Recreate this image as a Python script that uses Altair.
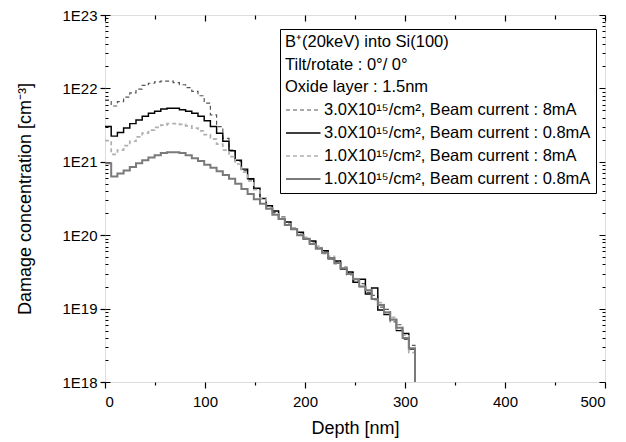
import altair as alt
import pandas as pd

# depth bin starts [nm] (last entry = end of profile)
depth = [0.0, 6.2, 12.4, 18.6, 24.8, 31.0, 37.2, 43.4, 49.6, 55.8,
         62.0, 68.2, 74.4, 80.6, 86.8, 93.0, 99.2, 105.4, 111.6, 117.8,
         124.0, 130.2, 136.4, 142.6, 148.8, 155.0, 161.2, 167.4, 173.6, 179.8,
         186.0, 192.2, 198.4, 204.6, 210.8, 217.0, 223.2, 229.4, 235.6, 241.8,
         248.0, 254.2, 260.4, 266.6, 272.8, 279.0, 285.2, 291.4, 297.6, 303.8,
         310.0]

# log10 of damage concentration [cm^-3]
s_a = [21.84, 21.76, 21.82, 21.88, 21.94, 21.99, 22.04, 22.07, 22.09, 22.10,
       22.10, 22.08, 22.05, 22.01, 21.96, 21.90, 21.80, 21.64, 21.48, 21.32,
       21.16, 21.01, 20.88, 20.76, 20.63, 20.50, 20.40, 20.31, 20.25, 20.15,
       20.10, 20.03, 19.95, 19.91, 19.83, 19.78, 19.69, 19.64, 19.55, 19.49,
       19.38, 19.34, 19.22, 19.18, 19.02, 18.99, 18.82, 18.78, 18.58, 18.50, 18.0]
s_b = [21.48, 21.35, 21.40, 21.46, 21.52, 21.57, 21.62, 21.66, 21.69, 21.72,
       21.73, 21.73, 21.71, 21.69, 21.66, 21.62, 21.56, 21.48, 21.39, 21.28,
       21.15, 21.02, 20.90, 20.77, 20.64, 20.50, 20.40, 20.33, 20.22, 20.18,
       20.08, 20.04, 19.95, 19.92, 19.82, 19.79, 19.68, 19.65, 19.54, 19.50,
       19.36, 19.40, 19.20, 19.28, 18.98, 18.92, 18.85, 18.70, 18.66, 18.45, 18.0]
s_c = [21.29, 21.10, 21.16, 21.22, 21.28, 21.34, 21.39, 21.43, 21.47, 21.50,
       21.52, 21.52, 21.51, 21.49, 21.46, 21.42, 21.37, 21.31, 21.24, 21.16,
       21.07, 20.97, 20.86, 20.74, 20.62, 20.50, 20.37, 20.29, 20.24, 20.15,
       20.10, 20.01, 19.97, 19.88, 19.85, 19.75, 19.71, 19.61, 19.57, 19.46,
       19.41, 19.30, 19.26, 19.12, 19.08, 18.94, 18.88, 18.72, 18.64, 18.40, 18.0]
s_d = [20.98, 20.80, 20.84, 20.88, 20.93, 20.98, 21.02, 21.06, 21.09, 21.12,
       21.13, 21.13, 21.12, 21.09, 21.05, 21.01, 20.96, 20.92, 20.87, 20.82,
       20.77, 20.70, 20.63, 20.56, 20.49, 20.43, 20.36, 20.28, 20.22, 20.14,
       20.08, 20.00, 19.95, 19.88, 19.82, 19.76, 19.69, 19.62, 19.55, 19.47,
       19.40, 19.30, 19.25, 19.13, 19.05, 18.95, 18.85, 18.74, 18.60, 18.46, 18.0]

series_names = ["3.0X10¹⁵/cm², Beam current : 8mA",
                "3.0X10¹⁵/cm², Beam current : 0.8mA",
                "1.0X10¹⁵/cm², Beam current : 8mA",
                "1.0X10¹⁵/cm², Beam current : 0.8mA"]
series_colors = ["#555555", "#000000", "#b0b0b0", "#7a7a7a"]
series_dash = [[4, 3], [1, 0], [4, 3], [1, 0]]
series_width = [1.2, 2.0, 1.5, 2.0]

legend_title = ["B⁺(20keV) into Si(100)", "Tilt/rotate : 0°/ 0°", "Oxide layer : 1.5nm"]

x_major = [0, 100, 200, 300, 400, 500]
x_all = [0, 50, 100, 150, 200, 250, 300, 350, 400, 450, 500]
y_major = [1e18, 1e19, 1e20, 1e21, 1e22, 1e23]
y_all = [k * 10.0 ** d for d in range(18, 23) for k in range(1, 10)] + [1e23]

rows = []
for name, vals in zip(series_names, [s_a, s_b, s_c, s_d]):
    for dx, v in zip(depth, vals):
        rows.append({"depth": dx, "conc": 10 ** v, "series": name})
df = pd.DataFrame(rows)

FONT = "Liberation Sans"

xscale = alt.Scale(domain=[0, 500], nice=False)
yscale = alt.Scale(type="log", domain=[1e18, 1e23], nice=False)

leg = alt.Legend(
    title=legend_title,
    orient="none", legendX=175, legendY=14,
    direction="vertical",
    titleFont=FONT, titleFontSize=16.5, titleFontWeight="normal", titleColor="black",
    titleLineHeight=22.5, titlePadding=6, titleLimit=400,
    labelFont=FONT, labelFontSize=16.5, labelColor="black", labelLimit=400,
    symbolType="M-1,0H3.6", symbolSize=225, rowPadding=6, labelOffset=22,
    strokeColor="black", fillColor="white", padding=5,
)

major_test = "abs(log(datum.value)/LN10 - round(log(datum.value)/LN10)) < 0.001"

lines = alt.Chart(df).mark_line(interpolate="step-after", clip=True).encode(
    x=alt.X("depth:Q", scale=xscale,
            axis=alt.Axis(title="Depth [nm]", values=x_all, grid=False,
                          labelExpr="datum.value % 100 == 0 ? datum.label : ''",
                          tickSize={"condition": {"test": "datum.value % 100 == 0", "value": 6}, "value": 3},
                          tickColor="black", tickWidth=1.2, domain=False,
                          labelFont=FONT, labelFontSize=15, labelColor="black", labelPadding=6,
                          titleFont=FONT, titleFontSize=18, titleFontWeight="normal", titleColor="black",
                          titleY=46, titleBaseline="middle")),
    y=alt.Y("conc:Q", scale=yscale,
            axis=alt.Axis(title="Damage concentration [cm⁻³]", values=y_major, grid=False,
                          labelExpr="'1E' + round(log(datum.value)/LN10)",
                          tickSize=5, tickColor="black", tickWidth=1.2, domain=False,
                          labelFont=FONT, labelFontSize=15, labelColor="black", labelPadding=3,
                          titleFont=FONT, titleFontSize=18, titleFontWeight="normal", titleColor="black",
                          titleX=-80, titleY=183.5, titleAngle=-90, titleAlign="center",
                          titleBaseline="middle")),
    color=alt.Color("series:N", scale=alt.Scale(domain=series_names, range=series_colors), legend=leg),
    strokeDash=alt.StrokeDash("series:N", scale=alt.Scale(domain=series_names, range=series_dash), legend=leg),
    strokeWidth=alt.StrokeWidth("series:N", scale=alt.Scale(domain=series_names, range=series_width), legend=leg),
    detail="series:N",
)

# inner ticks on top and left edges
inner1 = alt.Chart(df).mark_line(opacity=0).encode(
    x=alt.X("depth:Q", scale=xscale,
            axis=alt.Axis(orient="bottom", offset=-367, values=x_all, labels=False, title=None,
                          grid=False, domain=False, tickColor="black", tickWidth=1.2,
                          tickSize={"condition": {"test": "datum.value % 100 == 0", "value": 6}, "value": 4})),
    y=alt.Y("conc:Q", scale=yscale,
            axis=alt.Axis(orient="right", offset=-500, values=y_all, labels=False, title=None,
                          grid=False, domain=False, tickColor="black", tickWidth=1,
                          tickSize={"condition": {"test": major_test, "value": 5}, "value": 3})),
)

# inner ticks on right edge
inner2 = alt.Chart(df).mark_line(opacity=0).encode(
    x=alt.X("depth:Q", scale=xscale, axis=None),
    y=alt.Y("conc:Q", scale=yscale,
            axis=alt.Axis(orient="left", offset=-500, values=y_all, labels=False, title=None,
                          grid=False, domain=False, tickColor="black", tickWidth=1,
                          tickSize={"condition": {"test": major_test, "value": 6}, "value": 3})),
)

chart = alt.layer(lines, inner1, inner2).resolve_axis(
    x="independent", y="independent"
).properties(
    width=500, height=367,
    autosize=alt.AutoSizeParams(type="none"),
    padding={"left": 97, "top": 7, "right": 13, "bottom": 60},
).configure_view(stroke="black", strokeWidth=1.5).configure(background="white")

chart.save("out.html", embed_options={"renderer": "svg", "actions": False})
